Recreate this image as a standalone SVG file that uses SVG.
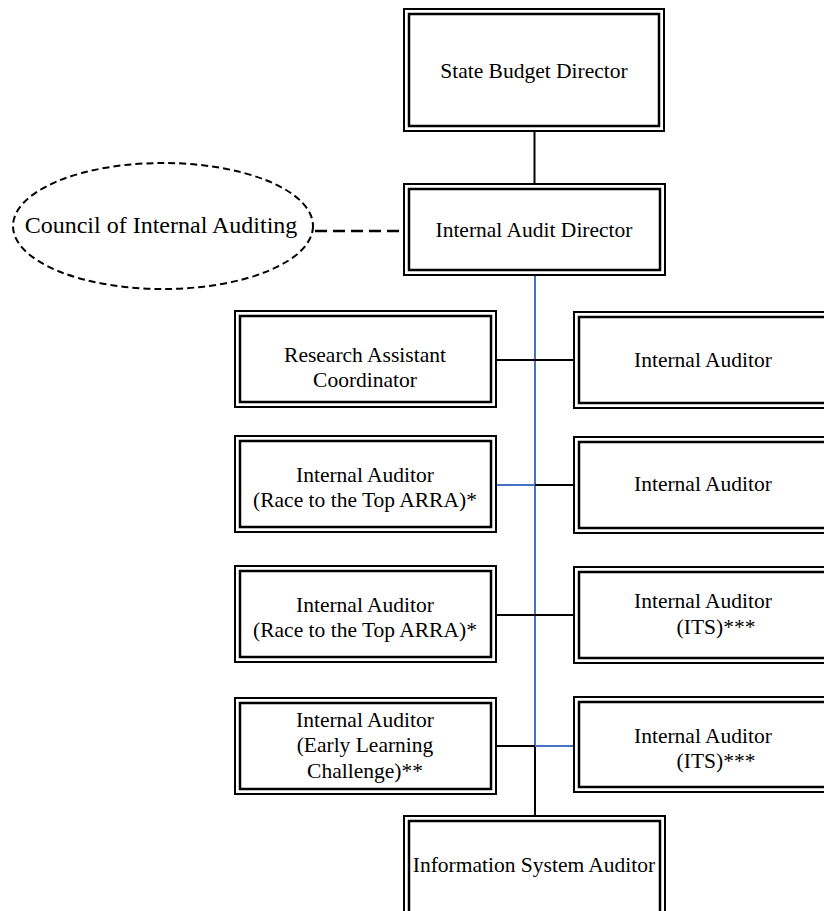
<svg xmlns="http://www.w3.org/2000/svg" width="824" height="911" viewBox="0 0 824 911">
<style>
.outer{fill:#fff;stroke:#000;stroke-width:2}
.inner{fill:none;stroke:#000;stroke-width:2.5}
text{font-family:"Liberation Serif","Times New Roman",serif;font-size:21.5px;fill:#000;text-anchor:middle}
.blk{stroke:#000;stroke-width:2;fill:none}
.blu{stroke:#4472C4;stroke-width:2;fill:none}
</style>
<rect width="824" height="911" fill="#fff"/>
<g id="connectors">
<line class="blk" x1="534.5" y1="132" x2="534.5" y2="184"/>
<line class="blu" x1="535" y1="276" x2="535" y2="746"/>
<line class="blk" x1="535" y1="746" x2="535" y2="816"/>
<line class="blk" x1="497" y1="360" x2="573" y2="360"/>
<line class="blu" x1="497" y1="485" x2="535" y2="485"/>
<line class="blk" x1="535" y1="485" x2="573" y2="485"/>
<line class="blk" x1="497" y1="615" x2="573" y2="615"/>
<line class="blk" x1="497" y1="746" x2="535" y2="746"/>
<line class="blu" x1="535" y1="746" x2="573" y2="746"/>
<line stroke="#000" stroke-width="2.5" stroke-dasharray="12 6" x1="315" y1="231" x2="403" y2="231"/>
</g>
<g id="council">
<ellipse cx="163" cy="226" rx="150" ry="63" fill="none" stroke="#000" stroke-width="2" stroke-dasharray="7 4"/>
<text x="161" y="233" style="font-size:24px">Council of Internal Auditing</text>
</g>
<g id="state-budget-director">
<rect class="outer" x="404" y="9" width="260" height="122"/>
<rect class="inner" x="409" y="14" width="250" height="112"/>
<text x="534" y="78">State Budget Director</text>
</g>
<g id="internal-audit-director">
<rect class="outer" x="404" y="184" width="261" height="91"/>
<rect class="inner" x="409" y="189" width="251" height="81"/>
<text x="534" y="237">Internal Audit Director</text>
</g>
<g id="research-assistant">
<rect class="outer" x="235" y="311" width="261" height="96"/>
<rect class="inner" x="240" y="316" width="251" height="86"/>
<text x="365" y="362">Research Assistant</text>
<text x="365" y="387">Coordinator</text>
</g>
<g id="internal-auditor-1">
<rect class="outer" x="574" y="312" width="262" height="96"/>
<rect class="inner" x="579" y="317" width="252" height="86"/>
<text x="703" y="367">Internal Auditor</text>
</g>
<g id="internal-auditor-rtt-1">
<rect class="outer" x="235" y="436" width="261" height="96"/>
<rect class="inner" x="240" y="441" width="251" height="86"/>
<text x="365" y="482">Internal Auditor</text>
<text x="365" y="507">(Race to the Top ARRA)*</text>
</g>
<g id="internal-auditor-2">
<rect class="outer" x="574" y="437" width="262" height="96"/>
<rect class="inner" x="579" y="442" width="252" height="86"/>
<text x="703" y="491">Internal Auditor</text>
</g>
<g id="internal-auditor-rtt-2">
<rect class="outer" x="235" y="566" width="261" height="96"/>
<rect class="inner" x="240" y="571" width="251" height="86"/>
<text x="365" y="612">Internal Auditor</text>
<text x="365" y="637">(Race to the Top ARRA)*</text>
</g>
<g id="internal-auditor-its-1">
<rect class="outer" x="574" y="567" width="262" height="96"/>
<rect class="inner" x="579" y="572" width="252" height="86"/>
<text x="703" y="608">Internal Auditor</text>
<text x="716" y="634">(ITS)***</text>
</g>
<g id="internal-auditor-elc">
<rect class="outer" x="235" y="698" width="261" height="96"/>
<rect class="inner" x="240" y="703" width="251" height="86"/>
<text x="365" y="727">Internal Auditor</text>
<text x="365" y="752">(Early Learning</text>
<text x="365" y="778">Challenge)**</text>
</g>
<g id="internal-auditor-its-2">
<rect class="outer" x="574" y="697" width="262" height="95"/>
<rect class="inner" x="579" y="702" width="252" height="85"/>
<text x="703" y="743">Internal Auditor</text>
<text x="716" y="768">(ITS)***</text>
</g>
<g id="information-system-auditor">
<rect class="outer" x="404" y="816" width="261" height="110"/>
<rect class="inner" x="409" y="821" width="251" height="100"/>
<text x="534" y="872">Information System Auditor</text>
</g>
</svg>
